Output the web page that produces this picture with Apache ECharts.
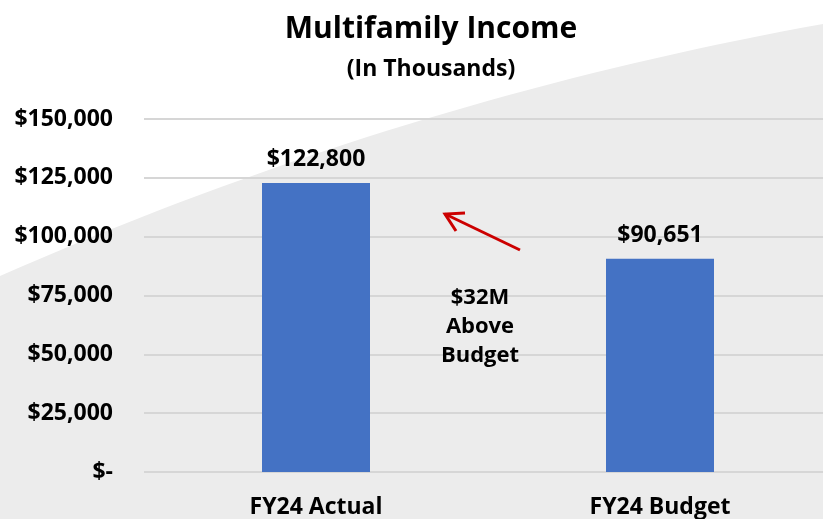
<!DOCTYPE html>
<html>
<head>
<meta charset="utf-8">
<script src="https://cdn.jsdelivr.net/npm/echarts@6/dist/echarts.min.js"></script>
<style>
  html, body { margin: 0; padding: 0; }
  #chart { width: 823px; height: 519px; }
</style>
</head>
<body>
<div id="chart"></div>
<script>
  // data
  var categories = ['FY24 Actual', 'FY24 Budget'];
  var incomeValues = [122800, 90651];
  var titleText = 'Multifamily Income';
  var subtitleText = '(In Thousands)';
  var noteLines = ['$32M', 'Above', 'Budget'];

  var FONT = '"Open Sans", "DejaVu Sans", sans-serif';

  function money(v) {
    if (v === 0) return '$-';
    return '$' + v.toLocaleString('en-US');
  }

  // white swoosh in the top-left of the slide background (decoration only)
  function swooshPoints() {
    var pts = [[0, 0], [823, 0]];
    var p0 = [823, 24], c = [400, 100], p1 = [0, 276];
    for (var i = 0; i <= 40; i++) {
      var t = i / 40, u = 1 - t;
      pts.push([u * u * p0[0] + 2 * u * t * c[0] + t * t * p1[0],
                u * u * p0[1] + 2 * u * t * c[1] + t * t * p1[1]]);
    }
    return pts;
  }

  var myChart = echarts.init(document.getElementById('chart'));
  myChart.setOption({
    backgroundColor: '#ececec',
    animation: false,
    graphic: [
      {
        type: 'polygon',
        z: -10,
        silent: true,
        shape: { points: swooshPoints() },
        style: { fill: '#ffffff' }
      },
      {
        type: 'text',
        z: 100,
        x: 431, y: 29,
        style: {
          text: titleText, fill: '#000', font: 'bold 30px ' + FONT,
          align: 'center', verticalAlign: 'middle'
        }
      },
      {
        type: 'text',
        z: 100,
        x: 431, y: 69,
        style: {
          text: subtitleText, fill: '#000', font: 'bold 23px ' + FONT,
          align: 'center', verticalAlign: 'middle'
        }
      },
      {
        type: 'text',
        z: 100,
        x: 480, y: 327,
        style: {
          text: noteLines.join('\n'), fill: '#000', font: 'bold 22px ' + FONT,
          lineHeight: 29, align: 'center', verticalAlign: 'middle'
        }
      },
      {
        type: 'polyline',
        z: 100,
        shape: { points: [[520, 250], [445, 214]] },
        style: { stroke: '#cc0000', lineWidth: 3, fill: null }
      },
      {
        type: 'polyline',
        z: 100,
        shape: { points: [[465, 213], [445, 214], [456, 231]] },
        style: { stroke: '#cc0000', lineWidth: 3, fill: null }
      }
    ],
    grid: {
      left: 144,
      width: 688,
      top: 119,
      bottom: 47,
      containLabel: false,
      outerBoundsMode: 'none'
    },
    xAxis: {
      type: 'category',
      data: categories,
      axisLine: { show: false },
      axisTick: { show: false },
      axisLabel: {
        margin: 24,
        color: '#000',
        fontFamily: FONT,
        fontWeight: 'bold',
        fontSize: 23
      }
    },
    yAxis: {
      type: 'value',
      min: 0,
      max: 150000,
      interval: 25000,
      axisLine: { show: false },
      axisTick: { show: false },
      splitLine: { lineStyle: { color: '#d6d6d6', width: 2 } },
      axisLabel: {
        margin: 31,
        color: '#000',
        fontFamily: FONT,
        fontWeight: 'bold',
        fontSize: 23,
        formatter: money
      }
    },
    series: [{
      type: 'bar',
      data: incomeValues,
      barWidth: 108,
      itemStyle: { color: '#4472c4' },
      label: {
        show: true,
        position: 'top',
        distance: 12,
        color: '#000',
        fontFamily: FONT,
        fontWeight: 'bold',
        fontSize: 23,
        formatter: function (p) { return money(p.value); }
      }
    }]
  });
</script>
</body>
</html>
